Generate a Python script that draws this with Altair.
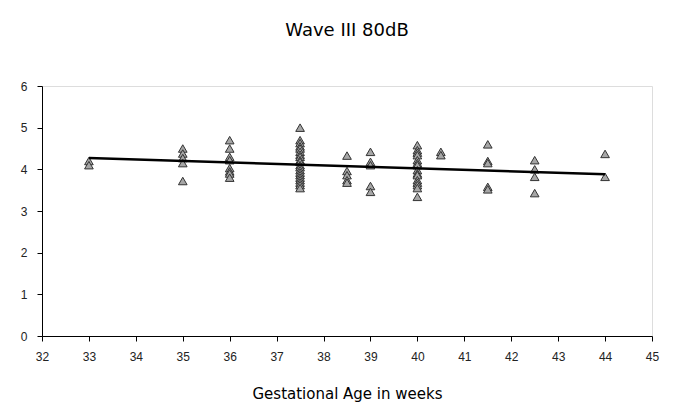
import altair as alt
import pandas as pd

# Gestational age (weeks) and Wave III latency values
ages_33 = [4.2, 4.1]
ages_35 = [4.5, 4.38, 4.27, 4.15, 3.72]
ages_36 = [4.7, 4.5, 4.3, 4.22, 4.03, 3.95, 3.9, 3.8]
ages_375 = [5.0, 4.7, 4.63, 4.55, 4.5, 4.42, 4.35, 4.3, 4.22, 4.18, 4.1, 4.05,
            3.98, 3.92, 3.86, 3.8, 3.74, 3.68, 3.62, 3.55]
ages_385 = [4.33, 3.96, 3.86, 3.74, 3.68]
ages_39 = [4.42, 4.18, 4.1, 3.6, 3.46]
ages_40 = [4.58, 4.46, 4.4, 4.34, 4.22, 4.15, 4.1, 3.98, 3.9, 3.86, 3.74,
           3.68, 3.62, 3.55, 3.34]
ages_405 = [4.42, 4.34]
ages_415 = [4.6, 4.2, 4.15, 3.58, 3.52]
ages_425 = [4.22, 4.0, 3.82, 3.43]
ages_44 = [4.37, 3.82]

groups = [(33, ages_33), (35, ages_35), (36, ages_36), (37.5, ages_375),
          (38.5, ages_385), (39, ages_39), (40, ages_40), (40.5, ages_405),
          (41.5, ages_415), (42.5, ages_425), (44, ages_44)]

trend_x = [33, 44]
trend_y = [4.27, 3.88]

rows = [{"age": a, "value": v} for a, vals in groups for v in vals]
df = pd.DataFrame(rows)
trend = pd.DataFrame({"age": trend_x, "value": trend_y})

x_scale = alt.Scale(domain=[32, 45], nice=False, zero=False)
y_scale = alt.Scale(domain=[0, 6], nice=False)

x_axis = alt.Axis(title="Gestational Age in weeks", values=list(range(32, 46)),
                  grid=False, tickSize=5, labelPadding=10, titlePadding=24,
                  titleFont="DejaVu Sans", titleFontSize=15, titleFontWeight="normal",
                  titleColor="#000", labelFont="Liberation Sans", labelFontSize=12,
                  labelColor="#222", domainColor="#000", tickColor="#000",
                  labelFlush=False, labelOverlap=False)
y_axis = alt.Axis(title=None, values=list(range(0, 7)), grid=False, tickSize=5,
                  labelPadding=10, labelFont="Liberation Sans", labelFontSize=12,
                  labelColor="#222", domainColor="#000", tickColor="#000",
                  labelFlush=False)

points = alt.Chart(df).mark_point(shape="triangle-up", size=75, filled=True,
                                  fill="#a6a6a6", stroke="#333", strokeWidth=1,
                                  opacity=1).encode(
    x=alt.X("age:Q", scale=x_scale, axis=x_axis),
    y=alt.Y("value:Q", scale=y_scale, axis=y_axis),
)

line = alt.Chart(trend).mark_line(color="#000", strokeWidth=2.5).encode(
    x=alt.X("age:Q", scale=x_scale),
    y=alt.Y("value:Q", scale=y_scale),
)

chart = (points + line).properties(
    width=610, height=250,
    title=alt.TitleParams("Wave III 80dB", font="DejaVu Sans", fontSize=18,
                          fontWeight="normal", color="#000", offset=40,
                          anchor="middle"),
    padding={"left": 12, "top": 14, "right": 10, "bottom": 5},
).configure_view(stroke="#888", strokeWidth=1).configure(background="white")

chart.save("out.html", embed_options={"renderer": "svg", "actions": False})
